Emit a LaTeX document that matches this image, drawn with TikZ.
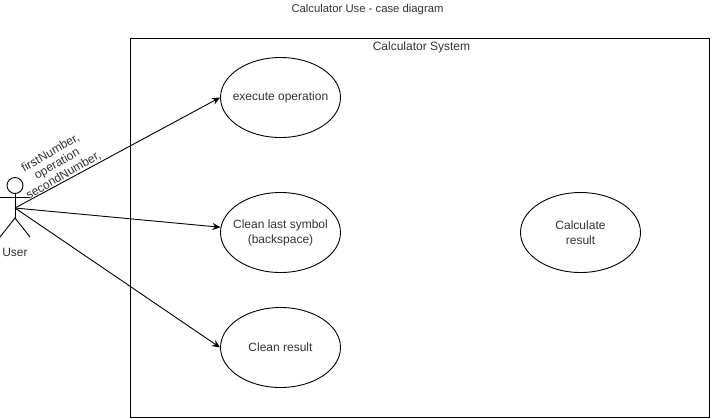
\documentclass[tikz,border=0pt]{standalone}
\usepackage{fontspec}
\setmainfont{Liberation Sans}
\usetikzlibrary{shapes.geometric,arrows.meta}
\definecolor{ink}{HTML}{333333}
\tikzset{
  x=1bp,y=-1bp,
  txt/.style={text=ink,inner sep=0pt,font=\fontsize{12bp}{15bp}\selectfont,align=center},
  usecase/.style={draw=black,ellipse,line width=0.9bp,minimum width=120bp,minimum height=80bp,fill=white,txt,inner xsep=-20bp,inner ysep=-5bp},
  lin/.style={draw=black,line width=0.9bp},
  conn/.style={lin,-{Stealth[length=8bp,width=7bp]}}
}
\begin{document}
\begin{tikzpicture}
\useasboundingbox (0,0) rectangle (719,418);
\fill[white] (0,0) rectangle (719,418);
\node[txt,font=\fontsize{11.3bp}{14bp}\selectfont] (title) at (367.5,9.5) {Calculator Use - case diagram};
\node[draw=black,line width=0.9bp,minimum width=579bp,minimum height=379bp,inner sep=0pt,anchor=north west] (sys) at (130,38) {};
\node[txt] (systitle) at (421.5,47.5) {Calculator System};
\node[usecase] (u1) at (280.5,97.5) {execute operation};
\node[usecase] (u2) at (280.5,232.5) {Clean last symbol\\(backspace)};
\node[usecase] (u3) at (280.5,347.5) {Clean result};
\node[usecase] (u4) at (580.5,232.5) {Calculate\\result};
% actor
\node[draw=black,line width=0.9bp,circle,minimum size=16bp,inner sep=0pt] (head) at (15,185.5) {};
\coordinate (hub) at (15,208);
\coordinate (armL) at (0,197);
\coordinate (armR) at (30,197);
\coordinate (hip) at (15,218);
\coordinate (legL) at (0,237);
\coordinate (legR) at (30,237);
\draw[lin] (head.south) -- (hip);
\draw[lin] (armL) -- (armR);
\draw[lin] (legL) -- (hip) -- (legR);
\node[txt] (user) at (15,252) {User};
\draw[conn] (hub) -- (u1.west);
\draw[conn] (hub) -- (u2.175);
\draw[conn] (hub) -- (u3.west);
\node[txt,rotate=30,font=\fontsize{12bp}{13bp}\selectfont] (lab) at (57,164) {firstNumber,\\operation\\secondNumber,};
\end{tikzpicture}
\end{document}
